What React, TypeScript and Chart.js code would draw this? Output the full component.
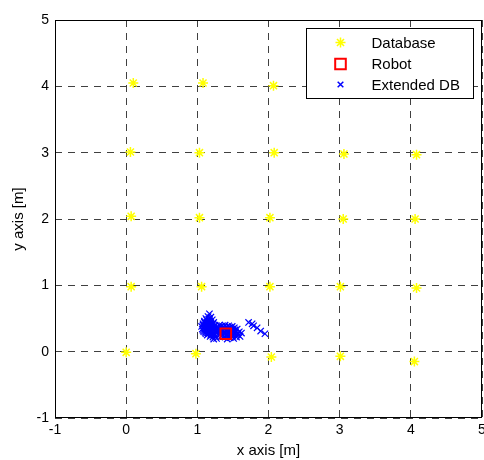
import React, { useEffect, useRef } from 'react';
import { Chart, registerables } from 'chart.js';
import { drawPoint } from 'chart.js/helpers';

Chart.register(...registerables);

const seriesNames = ['Database', 'Robot', 'Extended DB'];
const axisTicks = [-1, 0, 1, 2, 3, 4, 5];
const xTitle = 'x axis [m]';
const yTitle = 'y axis [m]';

const dbX = [0.10, 1.08, 2.07, 0.06, 1.03, 2.08, 3.06, 4.08, 0.07, 1.03, 2.02, 3.05, 4.06, 0.07, 1.06, 2.02, 3.01, 4.08, 0.00, 0.98, 2.04, 3.01, 4.05];
const dbY = [4.05, 4.05, 4.01, 3.01, 3.00, 3.00, 2.98, 2.97, 2.04, 2.02, 2.02, 2.00, 2.00, 0.98, 0.98, 0.98, 0.98, 0.96, -0.01, -0.03, -0.08, -0.07, -0.15];

const robotX = [1.40];
const robotY = [0.27];

const extX = [
  1.17, 1.15, 1.19, 1.12, 1.16, 1.21, 1.10, 1.14, 1.18, 1.23, 1.08, 1.12, 1.16, 1.20, 1.25, 1.06, 1.10, 1.14, 1.18, 1.22,
  1.27, 1.07, 1.11, 1.15, 1.19, 1.23, 1.28, 1.09, 1.13, 1.17, 1.21, 1.26, 1.12, 1.16, 1.20, 1.24, 1.18, 1.22, 1.26,
  1.13, 1.17, 1.10, 1.14, 1.19, 1.22, 1.08, 1.12, 1.16, 1.20, 1.24, 1.09, 1.13, 1.17, 1.21, 1.25, 1.08, 1.12, 1.16, 1.20,
  1.24, 1.28, 1.11, 1.15, 1.19, 1.23, 1.14, 1.19, 1.23,
  1.31, 1.35, 1.39, 1.44, 1.49, 1.30, 1.34, 1.38, 1.43, 1.47, 1.52, 1.56, 1.31, 1.35, 1.40, 1.45, 1.50, 1.54, 1.59,
  1.32, 1.37, 1.42, 1.47, 1.52, 1.57, 1.62, 1.34, 1.39, 1.44, 1.49, 1.55, 1.60, 1.42, 1.51,
  1.33, 1.37, 1.41, 1.46, 1.50, 1.32, 1.36, 1.41, 1.48, 1.53, 1.33, 1.38, 1.43, 1.48, 1.52, 1.57, 1.35, 1.40, 1.45, 1.50,
  1.55, 1.46,
  1.23, 1.27, 1.72, 1.77, 1.79, 1.84, 1.89, 1.95,
];
const extY = [
  0.57, 0.53, 0.52, 0.50, 0.49, 0.48, 0.46, 0.45, 0.45, 0.44, 0.42, 0.42, 0.41, 0.41, 0.40, 0.38, 0.38, 0.37, 0.37, 0.37,
  0.36, 0.34, 0.34, 0.33, 0.33, 0.33, 0.33, 0.30, 0.30, 0.30, 0.30, 0.30, 0.27, 0.27, 0.26, 0.27, 0.23, 0.22, 0.23,
  0.48, 0.47, 0.44, 0.43, 0.43, 0.42, 0.40, 0.40, 0.39, 0.39, 0.38, 0.36, 0.35, 0.35, 0.35, 0.35, 0.32, 0.32, 0.32, 0.32,
  0.31, 0.31, 0.29, 0.28, 0.28, 0.28, 0.25, 0.25, 0.25,
  0.40, 0.39, 0.40, 0.39, 0.38, 0.36, 0.35, 0.35, 0.35, 0.35, 0.36, 0.34, 0.31, 0.31, 0.31, 0.31, 0.31, 0.30, 0.30,
  0.27, 0.27, 0.26, 0.27, 0.27, 0.26, 0.28, 0.23, 0.22, 0.23, 0.23, 0.22, 0.23, 0.19, 0.20,
  0.38, 0.37, 0.37, 0.37, 0.34, 0.33, 0.33, 0.33, 0.33, 0.33, 0.29, 0.29, 0.29, 0.29, 0.29, 0.28, 0.25, 0.25, 0.25, 0.25,
  0.25, 0.21,
  0.19, 0.20, 0.44, 0.42, 0.39, 0.36, 0.31, 0.27,
];

const FONT = "'Liberation Sans', Arial, sans-serif";

const toPts = (xs: number[], ys: number[]) => xs.map((x, i) => ({ x, y: ys[i] }));

const markerStyles = [
  { pointStyle: 'star', radius: 5, borderWidth: 1.5, color: '#ffff00', fill: 'rgba(0,0,0,0)' },
  { pointStyle: 'rect', radius: 7.5, borderWidth: 2, color: '#ff0000', fill: 'rgba(0,0,0,0)' },
  { pointStyle: 'crossRot', radius: 4.5, borderWidth: 1.2, color: '#0000ff', fill: 'rgba(0,0,0,0)' },
];

const zeroPad = () => ({ left: 0, top: 0, right: 0, bottom: 0 });

const boxLegend = {
  id: 'boxLegend',
  afterDraw(chart: any) {
    const ctx = chart.ctx as CanvasRenderingContext2D;
    const { left, top, right, bottom } = chart.chartArea;
    ctx.save();
    ctx.setLineDash([]);
    ctx.strokeStyle = '#000';
    ctx.lineWidth = 1;
    const l = Math.round(left) + 0.5;
    const t = Math.round(top) + 0.5;
    const r = Math.round(right) - 0.5;
    const b = Math.round(bottom) - 0.5;
    ctx.strokeRect(l, t, r - l, b - t);

    const lw = 167, lh = 70;
    const lx = Math.round(right) - 9 - lw + 0.5;
    const ly = Math.round(top) + 8 + 0.5;
    ctx.fillStyle = '#fff';
    ctx.fillRect(lx, ly, lw, lh);
    ctx.strokeRect(lx, ly, lw, lh);
    const rows = [14, 35.5, 56];
    seriesNames.forEach((name, i) => {
      const st = markerStyles[i];
      const cy = ly + rows[i];
      ctx.save();
      ctx.strokeStyle = st.color;
      ctx.fillStyle = st.fill;
      ctx.lineWidth = i === 2 ? 1.5 : st.borderWidth;
      const rad = i === 2 ? 4 : st.radius;
      drawPoint(ctx, { pointStyle: st.pointStyle as any, radius: rad, rotation: 0, borderWidth: ctx.lineWidth }, lx + 34, cy);
      ctx.restore();
      ctx.fillStyle = '#000';
      ctx.font = `15px ${FONT}`;
      ctx.textBaseline = 'middle';
      ctx.textAlign = 'left';
      ctx.fillText(name, lx + 65, cy + 1);
    });
    ctx.restore();
  },
};

export default function App() {
  const ref = useRef<HTMLCanvasElement | null>(null);
  useEffect(() => {
    if (!ref.current) return;
    const mk = (i: number) => ({
      pointStyle: markerStyles[i].pointStyle as any,
      pointRadius: markerStyles[i].radius,
      pointBorderWidth: markerStyles[i].borderWidth,
      pointBorderColor: markerStyles[i].color,
      pointBackgroundColor: markerStyles[i].fill,
      borderColor: markerStyles[i].color,
      backgroundColor: markerStyles[i].fill,
      showLine: false,
    });
    const chart = new Chart(ref.current, {
      type: 'scatter',
      data: {
        datasets: [
          { label: seriesNames[0], data: toPts(dbX, dbY), order: 3, ...mk(0) },
          { label: seriesNames[1], data: toPts(robotX, robotY), order: 1, ...mk(1) },
          { label: seriesNames[2], data: toPts(extX, extY), order: 2, ...mk(2) },
        ],
      },
      options: {
        responsive: false,
        animation: false,
        layout: { autoPadding: false, padding: { top: 20, right: 2, left: 0, bottom: 0 } },
        plugins: { legend: { display: false }, tooltip: { enabled: false } },
        scales: {
          x: {
            type: 'linear',
            min: -1,
            max: 5,
            afterBuildTicks: (s: any) => { s.ticks = axisTicks.map((v) => ({ value: v })); },
            afterFit: (s: any) => {
              s.height = 42; s.paddingLeft = 0; s.paddingRight = 0;
              s.getPadding = zeroPad;
            },
            ticks: { color: '#000', font: { family: FONT, size: 14 }, padding: 4, callback: (v: any) => String(v) },
            grid: { color: '#404040', lineWidth: 1, drawTicks: false },
            border: { display: false, dash: [7, 6] },
            title: { display: true, text: xTitle, color: '#000', font: { family: FONT, size: 15 }, padding: { top: 0, bottom: 0 } },
          },
          y: {
            type: 'linear',
            min: -1,
            max: 5,
            afterBuildTicks: (s: any) => { s.ticks = axisTicks.map((v) => ({ value: v })); },
            afterFit: (s: any) => {
              s.width = 55; s.paddingTop = 0; s.paddingBottom = 0;
              s.getPadding = zeroPad;
            },
            ticks: { color: '#000', font: { family: FONT, size: 14 }, padding: 6, callback: (v: any) => String(v) },
            grid: { color: '#404040', lineWidth: 1, drawTicks: false },
            border: { display: false, dash: [7, 6] },
            title: { display: true, text: yTitle, color: '#000', font: { family: FONT, size: 15 }, padding: { top: 10, bottom: 0 } },
          },
        },
      },
      plugins: [boxLegend],
    });
    return () => chart.destroy();
  }, []);
  return (
    <div style={{ position: 'fixed', left: 0, top: 0, width: 484, height: 460, background: '#fff' }}>
      <canvas ref={ref} width={484} height={460} style={{ display: 'block', width: 484, height: 460 }} />
    </div>
  );
}
